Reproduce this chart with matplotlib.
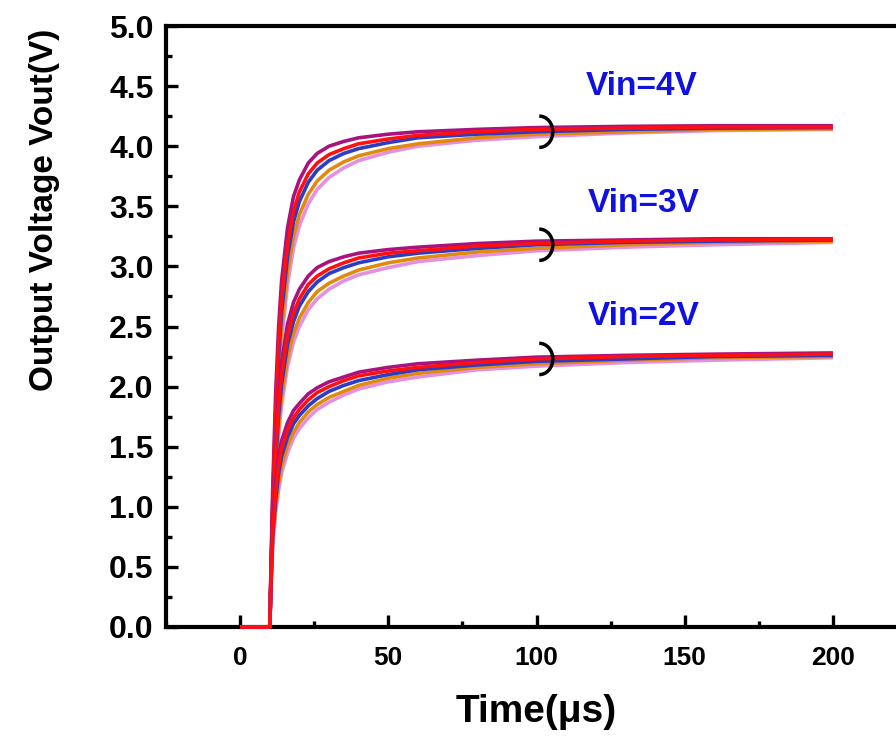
import matplotlib
matplotlib.use("Agg")
import matplotlib.pyplot as plt
from matplotlib.patches import Arc
from matplotlib.ticker import MultipleLocator

plt.rcParams['font.family'] = ['Liberation Sans', 'DejaVu Sans']

# time axis (us)
t = [0, 10, 10.5, 11, 12, 13, 14, 16, 18, 20, 23, 26, 30, 35, 40, 50, 60, 80, 100, 130, 160, 200]

# Vin = 4V  (top -> bottom of the band)
v4_purple = [0, 0, 0.60, 1.15, 1.95, 2.50, 2.88, 3.32, 3.58, 3.72, 3.86, 3.94, 4.00, 4.04, 4.07, 4.10, 4.12, 4.14, 4.155, 4.165, 4.17, 4.17]
v4_red    = [0, 0, 0.55, 1.05, 1.80, 2.35, 2.72, 3.18, 3.46, 3.62, 3.77, 3.86, 3.93, 3.98, 4.02, 4.06, 4.09, 4.12, 4.14, 4.15, 4.16, 4.16]
v4_blue   = [0, 0, 0.50, 1.00, 1.72, 2.25, 2.62, 3.08, 3.37, 3.54, 3.70, 3.80, 3.88, 3.94, 3.98, 4.03, 4.07, 4.10, 4.12, 4.14, 4.15, 4.155]
v4_orange = [0, 0, 0.45, 0.90, 1.60, 2.12, 2.48, 2.95, 3.25, 3.43, 3.60, 3.71, 3.80, 3.87, 3.92, 3.98, 4.02, 4.07, 4.10, 4.12, 4.14, 4.145]
v4_pink   = [0, 0, 0.42, 0.85, 1.50, 2.00, 2.38, 2.85, 3.15, 3.34, 3.52, 3.64, 3.74, 3.82, 3.88, 3.95, 4.00, 4.05, 4.08, 4.11, 4.13, 4.14]

# Vin = 3V
v3_purple = [0, 0, 0.50, 0.95, 1.55, 1.95, 2.20, 2.52, 2.70, 2.81, 2.92, 2.99, 3.04, 3.08, 3.11, 3.14, 3.16, 3.19, 3.21, 3.22, 3.23, 3.23]
v3_red    = [0, 0, 0.45, 0.88, 1.45, 1.84, 2.10, 2.42, 2.61, 2.73, 2.85, 2.92, 2.98, 3.03, 3.07, 3.11, 3.13, 3.17, 3.19, 3.21, 3.22, 3.225]
v3_blue   = [0, 0, 0.42, 0.82, 1.38, 1.76, 2.02, 2.35, 2.54, 2.67, 2.79, 2.87, 2.94, 2.99, 3.03, 3.08, 3.11, 3.15, 3.18, 3.20, 3.21, 3.22]
v3_orange = [0, 0, 0.40, 0.78, 1.30, 1.66, 1.92, 2.24, 2.44, 2.57, 2.70, 2.79, 2.86, 2.92, 2.97, 3.03, 3.07, 3.12, 3.15, 3.18, 3.20, 3.21]
v3_pink   = [0, 0, 0.38, 0.74, 1.24, 1.60, 1.85, 2.17, 2.37, 2.50, 2.64, 2.73, 2.81, 2.88, 2.93, 2.99, 3.04, 3.09, 3.13, 3.16, 3.18, 3.20]

# Vin = 2V
v2_purple = [0, 0, 0.50, 0.88, 1.20, 1.42, 1.55, 1.70, 1.80, 1.86, 1.94, 1.99, 2.04, 2.08, 2.12, 2.16, 2.19, 2.22, 2.245, 2.26, 2.27, 2.28]
v2_red    = [0, 0, 0.45, 0.80, 1.12, 1.34, 1.48, 1.64, 1.74, 1.81, 1.89, 1.95, 2.00, 2.05, 2.09, 2.13, 2.16, 2.20, 2.23, 2.25, 2.26, 2.27]
v2_blue   = [0, 0, 0.42, 0.76, 1.06, 1.28, 1.42, 1.58, 1.69, 1.76, 1.84, 1.90, 1.96, 2.01, 2.05, 2.10, 2.14, 2.18, 2.21, 2.23, 2.25, 2.26]
v2_orange = [0, 0, 0.40, 0.72, 1.00, 1.20, 1.34, 1.51, 1.62, 1.70, 1.79, 1.85, 1.91, 1.96, 2.01, 2.07, 2.11, 2.16, 2.19, 2.22, 2.24, 2.25]
v2_pink   = [0, 0, 0.38, 0.68, 0.95, 1.14, 1.28, 1.45, 1.57, 1.65, 1.74, 1.81, 1.87, 1.93, 1.98, 2.04, 2.08, 2.14, 2.17, 2.20, 2.22, 2.24]

labels = ["Vin=4V", "Vin=3V", "Vin=2V"]
label_x = [135.5, 136, 136]
label_y = [4.50, 3.52, 2.58]
bracket_y = [4.12, 3.18, 2.23]

groups = [
    [v4_pink, v4_orange, v4_blue, v4_purple, v4_red],
    [v3_pink, v3_orange, v3_blue, v3_purple, v3_red],
    [v2_pink, v2_orange, v2_blue, v2_purple, v2_red],
]
colors = ["#e48fe0", "#e08a10", "#2a3cc8", "#a8137f", "#ff1010"]

fig = plt.figure(figsize=(8.96, 7.38), dpi=100)
ax = fig.add_axes([166/896, 111/738, 741/896, 601/738])

for grp in groups:
    for vals, c in zip(grp, colors):
        ax.plot(t, vals, color=c, lw=2.6, solid_capstyle='butt',
                zorder=3, clip_on=False)

for lab, lx, ly in zip(labels, label_x, label_y):
    ax.text(lx, ly, lab, color="#1010e0", fontsize=24, fontweight='bold',
            ha='center', va='center')

for by in bracket_y:
    ax.add_patch(Arc((101, by), 9, 0.26, theta1=-120, theta2=120,
                     color='black', lw=2.5, zorder=4))

ax.set_xlim(-25, 225)
ax.set_ylim(0, 5.0)
ax.xaxis.set_major_locator(MultipleLocator(50))
ax.xaxis.set_minor_locator(MultipleLocator(25))
ax.yaxis.set_major_locator(MultipleLocator(0.5))
ax.yaxis.set_minor_locator(MultipleLocator(0.25))
ax.yaxis.set_major_formatter(plt.FormatStrFormatter('%.1f'))

ax.tick_params(which='both', direction='in', width=2.4, top=False, right=False)
ax.tick_params(which='major', length=8.5)
ax.tick_params(which='minor', length=4.5)
ax.tick_params(axis='x', which='major', pad=14, labelsize=19)
ax.tick_params(axis='y', which='major', pad=9, labelsize=23)
for lbl in ax.get_xticklabels() + ax.get_yticklabels():
    lbl.set_fontweight('bold')

for s in ax.spines.values():
    s.set_linewidth(3)

fig.text(536/896, 1 - 712/738, "Time(\u03bcs)", fontsize=28, fontweight='bold',
         ha='center', va='center')
fig.text(45/896, 1 - 210/738, "Output Voltage Vout(V)", fontsize=24,
         fontweight='bold', rotation=90, ha='center', va='center')

fig.savefig("out.png", dpi=100)
